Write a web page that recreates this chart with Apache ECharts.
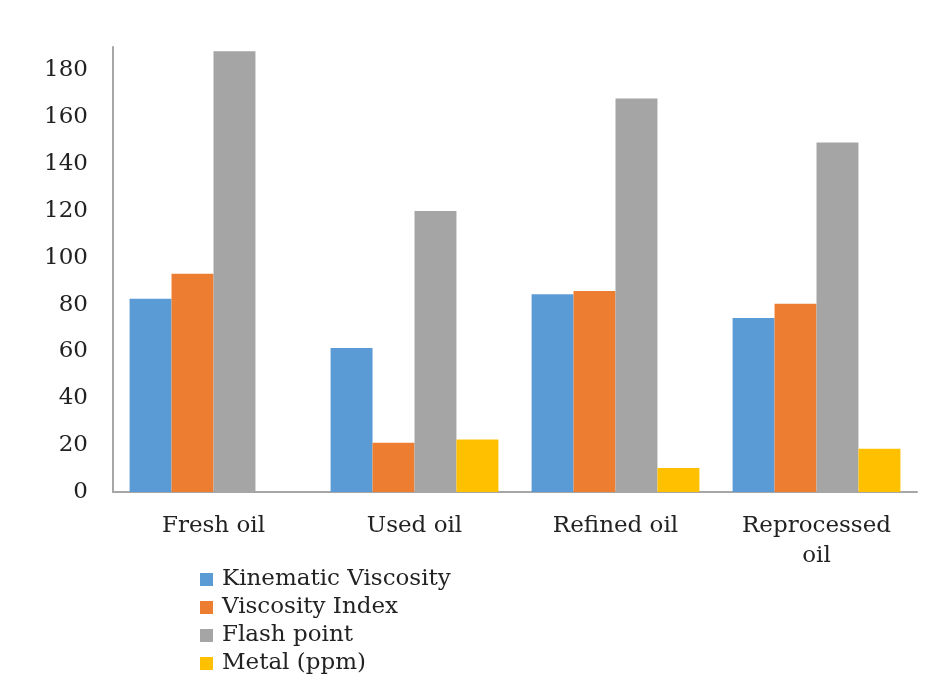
<!DOCTYPE html>
<html>
<head>
<meta charset="utf-8">
<script src="https://cdn.jsdelivr.net/npm/echarts@6/dist/echarts.min.js"></script>
<style>
    html, body { margin: 0; padding: 0; background: #fff; }
    #main { width: 951px; height: 693px; }
</style>
</head>
<body>
<div id="main"></div>
<script>
    var categories = ['Fresh oil', 'Used oil', 'Refined oil', 'Reprocessed oil'];
    var seriesNames = ['Kinematic Viscosity', 'Viscosity Index', 'Flash point', 'Metal (ppm)'];
    var kinematicViscosity = [82.5, 61.5, 84.4, 74.3];
    var viscosityIndex = [93.2, 21, 85.8, 80.4];
    var flashPoint = [188.2, 120, 168, 149.2];
    var metalPpm = [0, 22.4, 10.3, 18.5];
    var colors = ['#5B9BD5', '#ED7D31', '#A5A5A5', '#FFC000'];

    var fontFamily = 'DejaVu Serif';
    var myChart = echarts.init(document.getElementById('main'));

    var values = [kinematicViscosity, viscosityIndex, flashPoint, metalPpm];
    var series = [];
    seriesNames.forEach(function (name, i) {
        series.push({
            name: name,
            type: 'bar',
            data: values[i],
            barGap: '0%',
            barCategoryGap: '16.5%',
            itemStyle: { color: colors[i] }
        });
    });

    var option = {
        animation: false,
        color: colors,
        grid: {
            left: 113,
            right: 34,
            top: 47,
            bottom: 201
        },
        legend: {
            orient: 'vertical',
            left: 195,
            top: 563,
            itemWidth: 13,
            itemHeight: 13,
            itemGap: 5,
            icon: 'rect',
            data: seriesNames,
            textStyle: {
                fontFamily: fontFamily,
                fontSize: 23,
                color: '#222',
                padding: [0, 0, 0, 4]
            }
        },
        xAxis: {
            type: 'category',
            data: categories,
            axisLine: { lineStyle: { color: '#A6A6A6', width: 2 } },
            axisTick: { show: false },
            axisLabel: {
                margin: 19,
                fontFamily: fontFamily,
                fontSize: 23,
                color: '#222',
                lineHeight: 30,
                formatter: function (v) {
                    return v.replace('Reprocessed ', 'Reprocessed\n');
                }
            }
        },
        yAxis: {
            type: 'value',
            min: 0,
            max: 190,
            interval: 20,
            axisLine: { show: true, lineStyle: { color: '#A6A6A6', width: 2 } },
            axisTick: { show: false },
            splitLine: { show: false },
            axisLabel: {
                margin: 25,
                showMaxLabel: false,
                fontFamily: fontFamily,
                fontSize: 23,
                color: '#222'
            }
        },
        series: series
    };

    myChart.setOption(option);
</script>
</body>
</html>
